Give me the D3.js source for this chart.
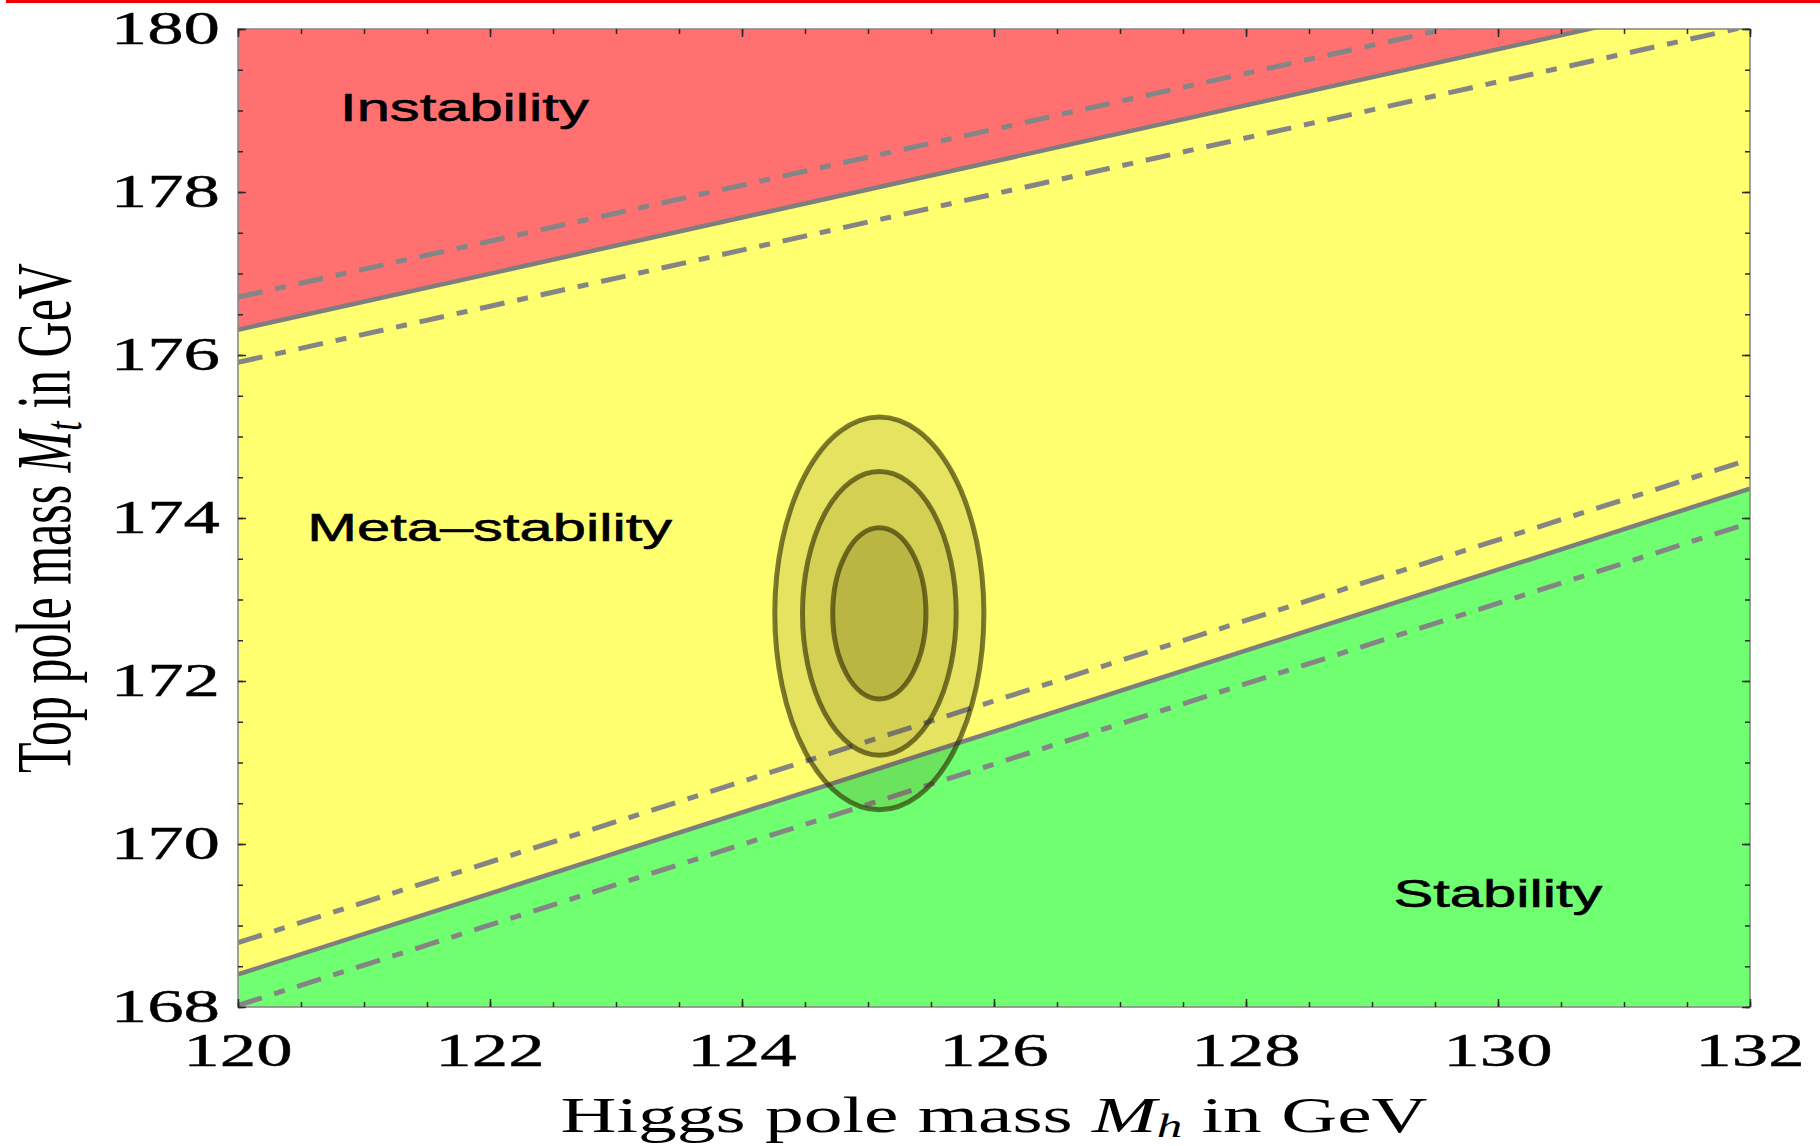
<!DOCTYPE html>
<html>
<head>
<meta charset="utf-8">
<script src="https://cdn.jsdelivr.net/npm/d3@7"></script>
<style>
  body { margin: 0; background: #ffffff; }
  svg { display: block; }
</style>
</head>
<body>
<svg id="chart" width="1820" height="1146"></svg>
<script>
// Axis ticks (GeV)
const higgsTicks = [120, 122, 124, 126, 128, 130, 132];
const topTicks = [168, 170, 172, 174, 176, 178, 180];

// Phase boundaries as straight lines [Mh, Mt]; central value and ±1σ band edges
const instabilityCentral = [[120, 176.31], [132, 180.44]];
const instabilityUpper   = [[120, 176.71], [132, 180.83]];
const instabilityLower   = [[120, 175.91], [132, 180.04]];
const stabilityCentral   = [[120, 168.40], [132, 174.36]];
const stabilityUpper     = [[120, 168.79], [132, 174.72]];
const stabilityLower     = [[120, 168.02], [132, 173.94]];

// Measured masses and the half-widths of the 1σ, 2σ, 3σ contours
const measuredMass = [125.09, 172.83];          // [Mh, Mt]
const contourHalfMh = [0.83, 0.61, 0.37];        // outer → inner
const contourHalfMt = [2.41, 1.74, 1.05];

// Region labels
const regionNames = ["Instability", "Meta\u2013stability", "Stability"];
const regionAnchors = [[120.81, 178.87], [120.55, 173.72], [129.17, 169.23]];

const svg = d3.select("#chart");
const W = 1820, H = 1146;
const plot = { left: 238, right: 1750, top: 29, bottom: 1007 };
const stretch = 1.55;   // horizontal stretch of all lettering

const x = d3.scaleLinear().domain([120, 132]).range([plot.left, plot.right]);
const y = d3.scaleLinear().domain([168, 180]).range([plot.bottom, plot.top]);

// Thin red rule along the top of the page
svg.append("rect").attr("x", 6).attr("y", 0).attr("width", W - 6).attr("height", 3)
  .attr("fill", "#f00000");

svg.append("defs").append("clipPath").attr("id", "plotClip")
  .append("rect")
  .attr("x", plot.left).attr("y", plot.top)
  .attr("width", plot.right - plot.left).attr("height", plot.bottom - plot.top);

const g = svg.append("g").attr("clip-path", "url(#plotClip)");

// Meta-stable background
g.append("rect")
  .attr("x", plot.left).attr("y", plot.top)
  .attr("width", plot.right - plot.left).attr("height", plot.bottom - plot.top)
  .attr("fill", "#ffff70");

const line = d3.line().x(d => x(d[0])).y(d => y(d[1]));

// Unstable region: above the instability boundary
g.append("path")
  .attr("d", line([instabilityCentral[0], instabilityCentral[1], [132, 181], [120, 181]]) + "Z")
  .attr("fill", "#ff7070");

// Stable region: below the stability boundary
g.append("path")
  .attr("d", line([stabilityCentral[0], stabilityCentral[1], [132, 167], [120, 167]]) + "Z")
  .attr("fill", "#70ff70");

// Band edges: dot-dashed
[instabilityUpper, instabilityLower, stabilityUpper, stabilityLower].forEach(pts => {
  g.append("path")
    .attr("d", line(pts))
    .attr("fill", "none")
    .attr("stroke", "#858585")
    .attr("stroke-width", 5)
    .attr("stroke-dasharray", "25 13 11 13");
});

// Central boundaries: solid
[instabilityCentral, stabilityCentral].forEach(pts => {
  g.append("path")
    .attr("d", line(pts))
    .attr("fill", "none")
    .attr("stroke", "#7e7e7e")
    .attr("stroke-width", 4.5);
});

// Error ellipses around the measured masses
const contourAlpha = [0.15, 0.12, 0.19];
contourHalfMh.forEach((a, i) => {
  const b = contourHalfMt[i];
  const cx = x(measuredMass[0]), cy = y(measuredMass[1]);
  g.append("ellipse")
    .attr("cx", cx).attr("cy", cy)
    .attr("rx", x(measuredMass[0] + a) - cx)
    .attr("ry", cy - y(measuredMass[1] + b))
    .attr("fill", `rgba(80,70,0,${contourAlpha[i]})`)
    .attr("stroke", "rgba(45,42,0,0.62)")
    .attr("stroke-width", 5);
});

// Frame
svg.append("rect")
  .attr("x", plot.left).attr("y", plot.top)
  .attr("width", plot.right - plot.left).attr("height", plot.bottom - plot.top)
  .attr("fill", "none").attr("stroke", "#8a8a8a").attr("stroke-width", 1.6);

// Ticks on all four sides, pointing inward
const minorX = d3.range(120, 132.001, 0.5);
const minorY = d3.range(168, 180.001, 0.5);
function tickAxes(xValues, yValues, len) {
  svg.append("g").attr("transform", `translate(0,${plot.bottom})`)
    .call(d3.axisBottom(x).tickValues(xValues).tickSize(-len).tickFormat(""));
  svg.append("g").attr("transform", `translate(0,${plot.top})`)
    .call(d3.axisTop(x).tickValues(xValues).tickSize(-len).tickFormat(""));
  svg.append("g").attr("transform", `translate(${plot.left},0)`)
    .call(d3.axisLeft(y).tickValues(yValues).tickSize(-len).tickFormat(""));
  svg.append("g").attr("transform", `translate(${plot.right},0)`)
    .call(d3.axisRight(y).tickValues(yValues).tickSize(-len).tickFormat(""));
}
tickAxes(minorX, minorY, 5);
tickAxes(higgsTicks, topTicks, 8);
svg.selectAll(".domain").remove();
svg.selectAll(".tick line").attr("stroke", "#2a2a2a").attr("stroke-width", 1.5);

const serif = "'Liberation Serif', 'Times New Roman', serif";
const sans = "'Liberation Sans', Arial, sans-serif";

// Tick labels
svg.append("g").selectAll("text").data(higgsTicks).join("text")
  .attr("transform", d => `translate(${x(d)},1066) scale(${stretch},1)`)
  .attr("text-anchor", "middle")
  .attr("font-family", serif).attr("font-size", 47)
  .attr("fill", "#000").attr("stroke", "#000").attr("stroke-width", 0.4)
  .text(d => d);

svg.append("g").selectAll("text").data(topTicks).join("text")
  .attr("transform", d => `translate(220,${y(d) + 15}) scale(${stretch},1)`)
  .attr("text-anchor", "end")
  .attr("font-family", serif).attr("font-size", 47)
  .attr("fill", "#000").attr("stroke", "#000").attr("stroke-width", 0.4)
  .text(d => d);

// Axis titles
const xt = svg.append("text")
  .attr("transform", `translate(${(plot.left + plot.right) / 2},1132) scale(${stretch},1)`)
  .attr("text-anchor", "middle")
  .attr("font-family", serif).attr("font-size", 50).attr("fill", "#000");
xt.append("tspan").text("Higgs pole mass ");
xt.append("tspan").attr("font-style", "italic").text("M");
xt.append("tspan").attr("font-style", "italic").attr("font-size", 33).attr("dy", 5).text("h");
xt.append("tspan").attr("dy", -5).text(" in GeV");

const yt = svg.append("text")
  .attr("transform", `translate(70,${(plot.top + plot.bottom) / 2}) scale(${stretch},1) rotate(-90)`)
  .attr("text-anchor", "middle")
  .attr("font-family", serif).attr("font-size", 50).attr("fill", "#000");
yt.append("tspan").text("Top pole mass ");
yt.append("tspan").attr("font-style", "italic").text("M");
yt.append("tspan").attr("font-style", "italic").attr("font-size", 34).attr("dy", 7).text("t");
yt.append("tspan").attr("dy", -7).text(" in GeV");

// Region names
svg.append("g").selectAll("text").data(regionNames).join("text")
  .attr("transform", (d, i) => `translate(${x(regionAnchors[i][0])},${y(regionAnchors[i][1])}) scale(${stretch},1)`)
  .attr("font-family", sans).attr("font-size", 38.5)
  .attr("fill", "#000").attr("stroke", "#000").attr("stroke-width", 0.6)
  .text(d => d);
</script>
</body>
</html>
